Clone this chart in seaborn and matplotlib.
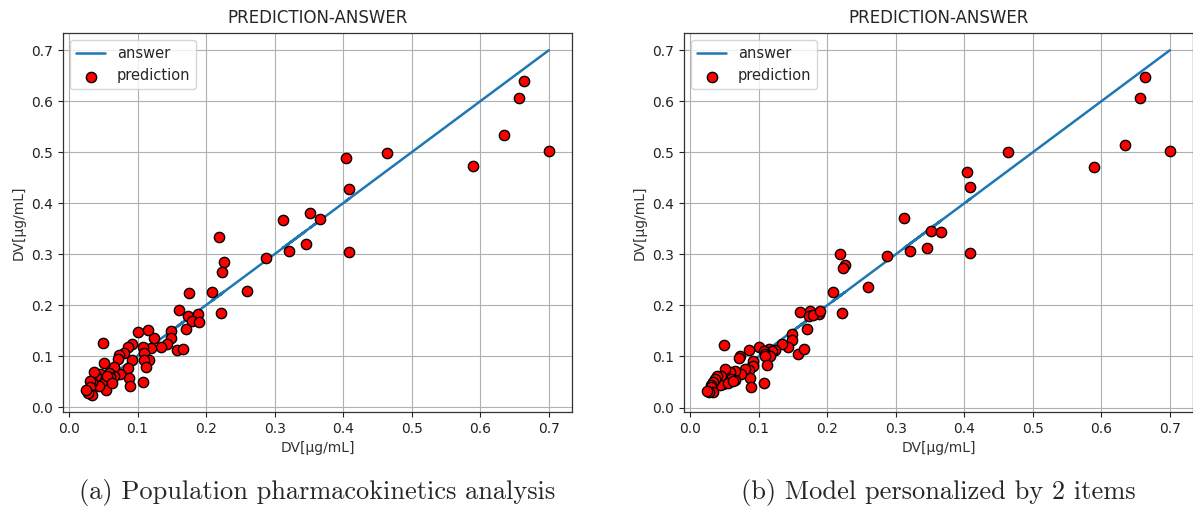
import numpy as np
import pandas as pd
import matplotlib
matplotlib.use("Agg")
import matplotlib.pyplot as plt
import seaborn as sns

# ---- data ----
answer = [0.700, 0.664, 0.657, 0.634, 0.590, 0.464, 0.404, 0.409, 0.408, 0.352,
          0.366, 0.312, 0.321, 0.346, 0.288, 0.259, 0.219, 0.226, 0.223, 0.208,
          0.222, 0.175, 0.161, 0.173, 0.188, 0.180, 0.190, 0.171, 0.149, 0.149,
          0.157, 0.167, 0.143, 0.134, 0.124, 0.115, 0.101, 0.120, 0.108, 0.109,
          0.116, 0.109, 0.112, 0.108, 0.092, 0.086, 0.092, 0.086, 0.087, 0.089,
          0.080, 0.073, 0.071, 0.074, 0.066, 0.065, 0.058, 0.057, 0.050, 0.051,
          0.048, 0.054, 0.045, 0.044, 0.040, 0.037, 0.034, 0.030, 0.031, 0.034,
          0.028, 0.025, 0.060, 0.055, 0.062]
pred_population = [0.502, 0.640, 0.607, 0.533, 0.473, 0.498, 0.489, 0.428, 0.305, 0.380,
                   0.369, 0.367, 0.307, 0.319, 0.293, 0.227, 0.333, 0.285, 0.265, 0.225,
                   0.184, 0.223, 0.191, 0.179, 0.183, 0.168, 0.166, 0.154, 0.150, 0.136,
                   0.112, 0.114, 0.124, 0.117, 0.136, 0.152, 0.148, 0.116, 0.117, 0.105,
                   0.093, 0.093, 0.078, 0.050, 0.124, 0.118, 0.092, 0.077, 0.056, 0.041,
                   0.105, 0.103, 0.095, 0.065, 0.078, 0.060, 0.067, 0.050, 0.126, 0.086,
                   0.050, 0.034, 0.064, 0.041, 0.060, 0.069, 0.050, 0.052, 0.039, 0.024,
                   0.028, 0.033, 0.058, 0.060, 0.048]
pred_personalized = [0.502, 0.647, 0.607, 0.515, 0.472, 0.500, 0.462, 0.432, 0.303, 0.346,
                     0.344, 0.371, 0.307, 0.313, 0.297, 0.237, 0.301, 0.280, 0.273, 0.227,
                     0.185, 0.189, 0.187, 0.180, 0.183, 0.181, 0.189, 0.154, 0.145, 0.132,
                     0.105, 0.114, 0.118, 0.124, 0.113, 0.115, 0.118, 0.110, 0.110, 0.105,
                     0.100, 0.100, 0.084, 0.049, 0.091, 0.113, 0.081, 0.073, 0.058, 0.041,
                     0.075, 0.100, 0.097, 0.065, 0.072, 0.053, 0.070, 0.052, 0.122, 0.075,
                     0.046, 0.050, 0.062, 0.045, 0.061, 0.055, 0.050, 0.045, 0.040, 0.030,
                     0.030, 0.032, 0.055, 0.048, 0.052]

titles = ["PREDICTION-ANSWER", "PREDICTION-ANSWER"]
captions = ["(a) Population pharmacokinetics analysis", "(b) Model personalized by 2 items"]
axis_label = "DV[µg/mL]"
tick_values = [0.0, 0.1, 0.2, 0.3, 0.4, 0.5, 0.6, 0.7]

# ---- style ----
sns.set_style("ticks")
plt.rcParams.update({
    "font.family": ["DejaVu Sans"],
    "font.size": 10,
    "axes.grid": True,
    "grid.color": "#b0b0b0",
    "grid.linewidth": 0.8,
    "axes.edgecolor": "#333333",
    "axes.linewidth": 0.9,
    "xtick.major.size": 3.5,
    "ytick.major.size": 3.5,
    "xtick.labelsize": 10,
    "ytick.labelsize": 10,
    "xtick.color": "#222222",
    "ytick.color": "#222222",
})

fig = plt.figure(figsize=(11.93, 5.13), dpi=100)
ax_a = fig.add_axes([63 / 1193, 101 / 513, 509 / 1193, 379 / 513])
ax_b = fig.add_axes([684 / 1193, 101 / 513, 509 / 1193, 379 / 513])

for ax, pred, title, cap in zip([ax_a, ax_b], [pred_population, pred_personalized], titles, captions):
    df = pd.DataFrame({"answer": answer, "prediction": pred})
    sns.lineplot(data=df, x="answer", y="answer", sort=False, estimator=None,
                 color="#1f77b4", linewidth=1.8, label="answer", ax=ax)
    sns.scatterplot(data=df, x="answer", y="prediction", color="red",
                    edgecolor="black", linewidth=1.0, s=55, label="prediction",
                    ax=ax, zorder=3)
    ax.set_xticks(tick_values)
    ax.set_yticks(tick_values)
    ax.set_xlabel(axis_label, fontsize=10, color="#333333")
    ax.set_ylabel(axis_label, fontsize=10, color="#333333")
    ax.set_title(title, fontsize=12, pad=7)
    ax.grid(True, color="#b0b0b0", linewidth=0.8)
    for s in ax.spines.values():
        s.set_visible(True)
    ax.legend(loc="upper left", fontsize=10.5, frameon=True, fancybox=True,
              framealpha=0.8, edgecolor="#cccccc")
    bb = ax.get_position()
    fig.text(bb.x0 + bb.width / 2, 0.039, cap, ha="center", va="center",
             fontsize=19, family="cmr10")

fig.savefig("out.png", dpi=100)
